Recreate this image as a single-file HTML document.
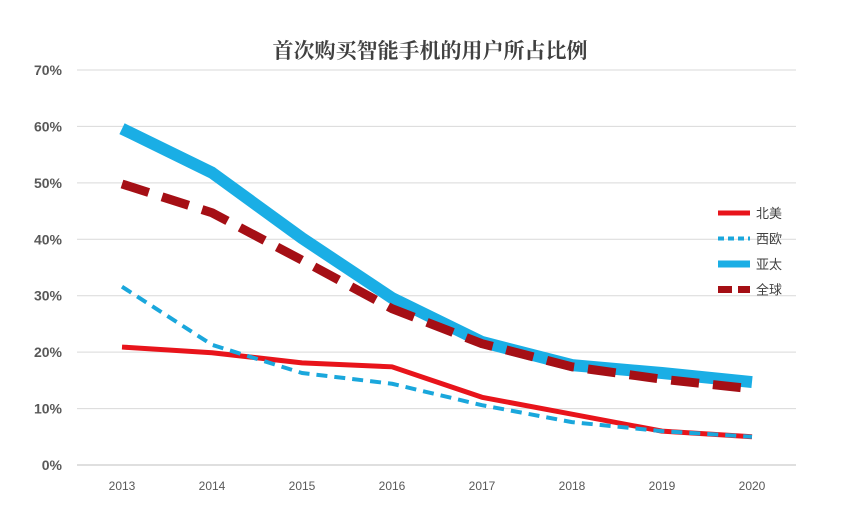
<!DOCTYPE html>
<html><head><meta charset="utf-8"><style>
html,body{margin:0;padding:0;background:#fff;}
svg{display:block;font-family:"Liberation Sans","Noto Sans CJK SC",sans-serif;}
</style></head><body>
<svg id="chart" width="844" height="516" viewBox="0 0 844 516">
<text x="430" y="58" text-anchor="middle" font-size="21" font-weight="bold" fill="#404040" font-family="'Noto Serif CJK SC','Noto Sans CJK SC',serif">首次购买智能手机的用户所占比例</text>
<g id="grid"></g><g id="series"></g><g id="legend"></g>
</svg>
<script>
const years=['2013','2014','2015','2016','2017','2018','2019','2020'];
const yTicks=[0,10,20,30,40,50,60,70];
const northAmerica=[20.9,19.9,18.1,17.4,12,9,6,5];
const westernEurope=[31.6,21.3,16.3,14.4,10.6,7.6,6,5];
const asiaPacific=[59.6,51.8,40.2,29.6,21.8,17.7,16.3,14.7];
const globalData=[49.8,44.7,36.3,27.7,21.5,17.4,15.2,13.5];
const NS='http://www.w3.org/2000/svg';
const x0=122,dx=90,yBase=465,yTop=70,yMax=70;
const xs=i=>x0+i*dx;
const ys=v=>yBase-(v/yMax)*(yBase-yTop);
function mk(t,a,p){const e=document.createElementNS(NS,t);for(const k in a)e.setAttribute(k,a[k]);p.appendChild(e);return e;}
const grid=document.getElementById('grid');
yTicks.forEach(v=>{
 const l=mk('line',{x1:77,x2:796,y1:ys(v),y2:ys(v),stroke:v===0?'#bfbfbf':'#d9d9d9','stroke-width':1},grid);
 
 
 const t=mk('text',{x:62,y:ys(v)+5,'text-anchor':'end','font-size':14,'font-weight':'bold',fill:'#595959'},grid);
 t.textContent=v+'%';
 
 
});
years.forEach((y,i)=>{
 const t=mk('text',{x:xs(i),y:490,'text-anchor':'middle','font-size':12,fill:'#595959'},grid);
 t.textContent=y;
 
 
});
const series=[
 {name:'北美',key:'north-america',data:northAmerica,color:'#e8141b',w:5,dash:''},
 {name:'西欧',key:'western-europe',data:westernEurope,color:'#1aa7dc',w:4,dash:'11,7'},
 {name:'亚太',key:'asia-pacific',data:asiaPacific,color:'#1aaee5',w:12,dash:''},
 {name:'全球',key:'global',data:globalData,color:'#a50f15',w:9,dash:'28,14'}
];
const sg=document.getElementById('series');
const order=[2,3,0,1];
order.forEach(k=>{const s=series[k];
 const p=mk('polyline',{points:s.data.map((v,i)=>xs(i)+','+ys(v)).join(' '),fill:'none',stroke:s.color,'stroke-width':s.w,'stroke-dasharray':s.dash,'stroke-linejoin':'round'},sg);
 
 
});
const lg=document.getElementById('legend');
series.forEach((s,i)=>{const y=213+i*25.5;
 const g=mk('g',{},lg);
 
 
 mk('line',{x1:718,x2:750,y1:y,y2:y,stroke:s.color,'stroke-width':Math.min(s.w,7),'stroke-dasharray':s.dash?(s.key==='global'?'14,6':'6,4'):''},g);
 const t=mk('text',{x:756,y:y+5,'font-size':13,fill:'#404040'},g);t.textContent=s.name;
});
</script>
</body></html>
